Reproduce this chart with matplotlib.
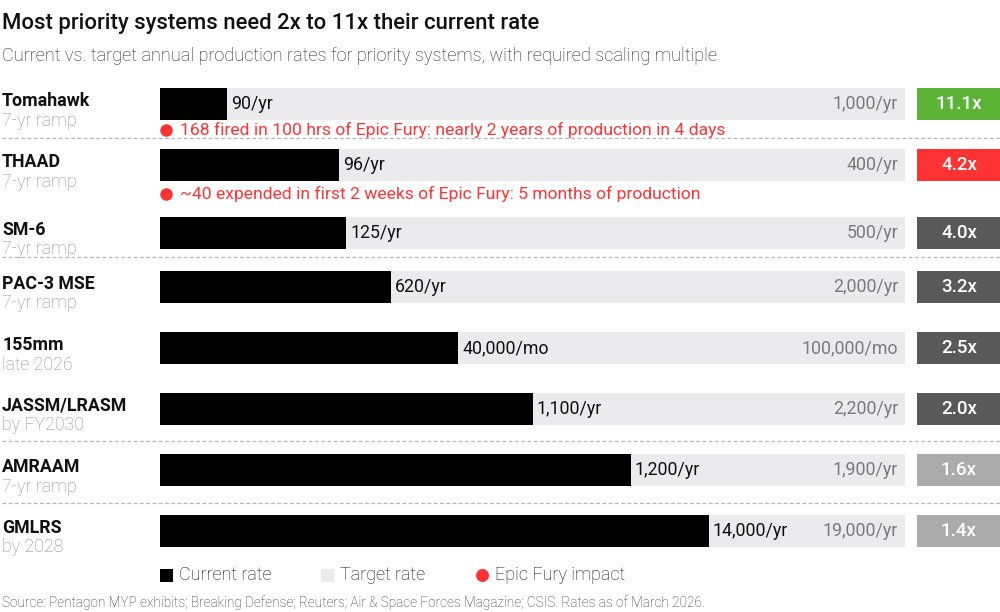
import matplotlib
matplotlib.use("Agg")
import matplotlib.pyplot as plt
from matplotlib.patches import Rectangle
from matplotlib.lines import Line2D

# ---- data ----
systems = ["Tomahawk", "THAAD", "SM-6", "PAC-3 MSE", "155mm", "JASSM/LRASM", "AMRAAM", "GMLRS"]
timelines = ["7-yr ramp", "7-yr ramp", "7-yr ramp", "7-yr ramp", "late 2026", "by FY2030", "7-yr ramp", "by 2028"]
current = [90, 96, 125, 620, 40000, 1100, 1200, 14000]
target = [1000, 400, 500, 2000, 100000, 2200, 1900, 19000]
units = ["/yr", "/yr", "/yr", "/yr", "/mo", "/yr", "/yr", "/yr"]
mult_colors = ["#5DB336", "#FF3333", "#595959", "#595959", "#595959", "#595959", "#ABABAB", "#ABABAB"]
impact_notes = {
    0: "168 fired in 100 hrs of Epic Fury: nearly 2 years of production in 4 days",
    1: "~40 expended in first 2 weeks of Epic Fury: 5 months of production",
}

# ---- layout (pixels) ----
W, H = 1000, 612
row_centers = [104, 165, 233, 287, 348, 409, 470, 531]
note_offsets = {0: 26, 1: 29}
sep_y = [138, 257, 441, 503]
bar_x0, bar_w, bar_h = 160, 745, 32
box_x0, box_w = 917, 85

FONT = "Roboto"
RED = "#FF3333"
LIGHT = "#EBEBED"
FS = 12.8

fig = plt.figure(figsize=(W / 100, H / 100), dpi=100)
fig.patch.set_facecolor("white")


def fx(x):
    return x / W


def fy(y):
    return 1 - y / H


def ftext(x, y, s, **kw):
    kw.setdefault("family", FONT)
    fig.text(fx(x), fy(y), s, **kw)


def dot(x, y, d_px):
    fig.add_artist(Line2D([fx(x)], [fy(y)], transform=fig.transFigure, marker="o",
                          markersize=d_px * 0.72, markerfacecolor=RED, markeredgewidth=0,
                          linestyle="none"))


# title & subtitle
ftext(2, 23, "Most priority systems need 2x to 11x their current rate", fontsize=15.9,
      weight="medium", color="#111111", va="center")
ftext(2, 56, "Current vs. target annual production rates for priority systems, with required scaling multiple",
      fontsize=13.1, weight="light", color="#222222", va="center")


def fmt(v):
    return f"{v:,}"


for i, name in enumerate(systems):
    cy = row_centers[i]
    ax = fig.add_axes([fx(bar_x0), fy(cy + bar_h / 2), bar_w / W, bar_h / H])
    ax.set_xlim(0, target[i])
    ax.set_ylim(0, 1)
    ax.axis("off")
    ax.barh(0.5, target[i], height=1, color=LIGHT, linewidth=0)
    ax.barh(0.5, current[i], height=1, color="black", linewidth=0)
    ax.annotate(fmt(current[i]) + units[i], xy=(current[i], 0.5), xytext=(4, 0),
                textcoords="offset pixels", ha="left", va="center", fontsize=FS,
                family=FONT, weight="normal", color="#111111")
    ax.annotate(fmt(target[i]) + units[i], xy=(target[i], 0.5), xytext=(-7, 0),
                textcoords="offset pixels", ha="right", va="center", fontsize=FS,
                family=FONT, weight="normal", color="#7A7A7A")

    # names
    ftext(2, cy - 3, name, fontsize=FS, weight="bold", color="#111111", va="center")
    ftext(2, cy + 16.5, timelines[i], fontsize=FS, weight="light", color="#8F8F8F", va="center")

    # multiplier box
    fig.add_artist(Rectangle((fx(box_x0), fy(cy + bar_h / 2)), box_w / W, bar_h / H,
                             transform=fig.transFigure, facecolor=mult_colors[i], linewidth=0))
    ftext(959, cy, f"{target[i] / current[i]:.1f}x", fontsize=13.5, weight="medium",
          color="white", ha="center", va="center")

    if i in impact_notes:
        ny = cy + note_offsets[i]
        dot(166, ny, 12.5)
        ftext(180, ny, impact_notes[i], fontsize=12.6, weight="normal", color=RED, va="center")

# separators
for y in sep_y:
    fig.add_artist(Line2D([fx(2), fx(1000)], [fy(y), fy(y)], transform=fig.transFigure,
                          color="#B5B5B5", linewidth=0.9, linestyle=(0, (3, 2))))

# legend
ly = 575
fig.add_artist(Rectangle((fx(160), fy(ly + 6.5)), 13 / W, 13 / H, transform=fig.transFigure,
                         facecolor="black", linewidth=0))
ftext(179, ly, "Current rate", fontsize=13, weight="light", color="#111111", va="center")
fig.add_artist(Rectangle((fx(321), fy(ly + 6.5)), 13 / W, 13 / H, transform=fig.transFigure,
                         facecolor=LIGHT, linewidth=0))
ftext(340, ly, "Target rate", fontsize=13, weight="light", color="#111111", va="center")
dot(482, ly, 13)
ftext(495, ly, "Epic Fury impact", fontsize=13, weight="light", color="#111111", va="center")

ftext(2, 603, "Source: Pentagon MYP exhibits; Breaking Defense; Reuters; Air & Space Forces Magazine; CSIS. Rates as of March 2026.",
      fontsize=9.8, weight="light", color="#333333", va="center")

fig.savefig("out.png", dpi=100, facecolor="white")
